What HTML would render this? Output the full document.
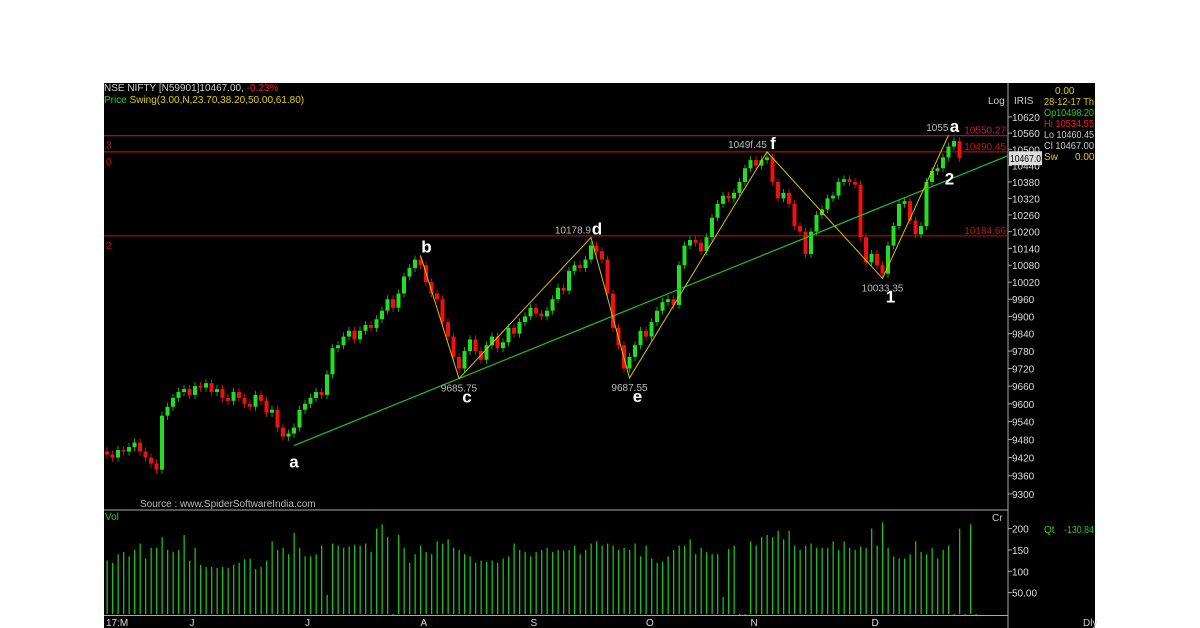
<!DOCTYPE html>
<html><head><meta charset="utf-8"><style>
body{margin:0;background:#fff;width:1200px;height:628px;overflow:hidden;font-family:"Liberation Sans",sans-serif}
#chart{position:absolute;left:0;top:0}
</style></head><body>
<svg id="chart" width="1200" height="628" xmlns="http://www.w3.org/2000/svg" font-family="Liberation Sans, sans-serif">
<rect x="104" y="83" width="991" height="545" fill="#000"/>
<g id="grid"></g>
<g id="vol"></g>
<g id="candles"></g>
<g id="overlay"></g>
<g id="labels"></g>
</svg>
<script>
const closes=[9430,9420,9445,9440,9455,9470,9440,9420,9400,9380,
9560,9590,9620,9640,9650,9630,9660,9655,9670,9640,
9650,9620,9610,9640,9620,9600,9590,9630,9610,9570,
9580,9520,9490,9500,9520,9580,9600,9620,9640,9630,
9700,9790,9800,9830,9850,9820,9850,9870,9860,9890,
9920,9960,9930,9980,10040,10070,10100,10080,10020,9980,
9960,9880,9830,9760,9720,9780,9820,9780,9750,9800,
9830,9790,9810,9860,9840,9880,9900,9930,9910,9900,
9920,9960,10000,9990,10060,10080,10070,10100,10150,10130,
10100,9980,9860,9800,9720,9760,9800,9850,9830,9880,
9920,9950,9960,9940,10080,10150,10170,10160,10130,10180,
10250,10300,10330,10320,10340,10380,10430,10460,10440,10460,
10470,10380,10320,10340,10300,10220,10200,10120,10200,10260,
10280,10320,10330,10380,10390,10380,10370,10180,10090,10120,
10080,10050,10150,10220,10300,10310,10240,10190,10220,10380,
10420,10430,10470,10510,10530,10467];
const volumes=[125,120,140,145,135,150,165,130,155,155,
180,150,145,150,185,125,155,115,110,110,108,110,108,115,120,128,130,105,110,125,
170,150,155,140,190,155,135,135,140,160,45,165,160,155,158,162,160,165,145,
200,210,180,0,185,155,120,140,160,145,140,170,165,175,155,150,140,135,120,125,
122,125,120,130,135,165,150,145,135,145,150,155,145,150,148,150,160,140,150,
165,170,160,165,160,150,155,150,165,135,160,130,120,122,135,150,160,160,175,
140,155,145,140,140,40,152,160,0,0,170,160,180,185,180,195,175,195,160,150,
160,165,155,155,155,170,150,170,155,150,158,155,200,160,215,155,135,130,130,
140,170,145,140,155,130,150,160,0,200,0,210,0,0];
const yTicks=[10620,10560,10500,10440,10380,10320,10260,10200,10140,10080,10020,9960,9900,9840,9780,9720,9660,9600,9540,9480,9420,9360,9300];
const volTicks=[200,150,100,50];
const volTickLabels=["200","150","100","50.00"];
const months=["17:M","J","J","A","S","O","N","D"];
const monthIdx=[0,15,36,57,77,98,117,139];
const swingIdx=[57,64,88,95,120,141,153];
const swingPx=[10115,9685.75,10178.9,9687.55,10490.45,10033.35,10552];
const swingTxt=["","9685.75","10178.9","9687.55","1049f.45","10033.35","1055"];
const waveLetters=["b","c","d","e","f","1","a"];
const hLevels=[10550.27,10490.45,10184.66];
const hLevelTags=["3","0","2"];
const hColors=["#c2185b","#d01010","#c01010"];
const trendIdx=[34,64];const trendPx=[9460,9685.75];

const NS="http://www.w3.org/2000/svg";
function mk(p,t,a,txt){const e=document.createElementNS(NS,t);for(const k in a)e.setAttribute(k,a[k]);if(txt!==undefined)e.textContent=txt;p.appendChild(e);return e;}
const X=i=>107+i*5.5;
const Y=p=>117+2840.4*Math.log(10620/p);
const VY=v=>614-v*0.427;
const grid=document.getElementById('grid'),vol=document.getElementById('vol'),cg=document.getElementById('candles'),ov=document.getElementById('overlay'),lb=document.getElementById('labels');

let e=mk(grid,'line',{x1:104,x2:1008,y1:510,y2:510,stroke:'#aaa','stroke-width':1});

e=mk(grid,'line',{x1:104,x2:1008,y1:615.5,y2:615.5,stroke:'#aaa','stroke-width':1});

e=mk(grid,'line',{x1:1008,x2:1008,y1:83,y2:628,stroke:'#aaa','stroke-width':1});


yTicks.forEach(t=>{const y=Y(t);
 e=mk(lb,'line',{x1:1008,x2:1012,y1:y,y2:y,stroke:'#aaa'});
 
 e=mk(lb,'text',{x:1012,y:y+4,fill:'#ddd','font-size':10},String(t));
 });
volTicks.forEach((t,i)=>{const y=VY(t);
 e=mk(lb,'line',{x1:1008,x2:1012,y1:y,y2:y,stroke:'#aaa'});
 
 e=mk(lb,'text',{x:1012,y:y+4,fill:'#ddd','font-size':10},volTickLabels[i]);
 });
months.forEach((m,i)=>{e=mk(lb,'text',{x:i==0?106:X(monthIdx[i]),y:626,fill:'#ddd','font-size':10},m);
 });

hLevels.forEach((p,i)=>{const y=Y(p);
 e=mk(grid,'line',{x1:104,x2:1008,y1:y,y2:y,stroke:hColors[i],'stroke-width':1});
 
 e=mk(lb,'text',{x:106,y:y+13,fill:hColors[i],'font-size':10},hLevelTags[i]);
 
 e=mk(lb,'text',{x:1006,y:y-2,fill:hColors[i],'font-size':10,'text-anchor':'end'},p.toFixed(2));
 });

volumes.forEach((v,i)=>{if(i>=closes.length+3)return;
 e=mk(vol,'rect',{x:X(i)-0.5,y:VY(v),width:1.3,height:Math.max(1,614-VY(v)),fill:'#18c018'});
 });

closes.forEach((c,i)=>{const o=i?closes[i-1]:c+10;const up=c>=o;
 const hi=Math.max(o,c)+14,lo=Math.min(o,c)-14;const col=up?'#20e020':'#f01010';const x=X(i);
 e=mk(cg,'line',{x1:x,x2:x,y1:Y(hi),y2:Y(lo),stroke:up?'#18a018':'#c01010','stroke-width':1});
 
 const y1=Y(Math.max(o,c)),y2=Y(Math.min(o,c));
 e=mk(cg,'rect',{x:x-2,y:y1,width:4,height:Math.max(1.5,y2-y1),fill:col});
 });

{const x1=X(trendIdx[0]),y1=Y(trendPx[0]),x2=X(trendIdx[1]),y2=Y(trendPx[1]);const s=(y2-y1)/(x2-x1);
 e=mk(ov,'line',{x1:x1,y1:y1,x2:1008,y2:y1+s*(1008-x1),stroke:'#20c020','stroke-width':1.2});
 }
e=mk(ov,'polyline',{points:swingIdx.map((ix,i)=>X(ix)+','+Y(swingPx[i])).join(' '),fill:'none',stroke:'#d8c000','stroke-width':1});

swingIdx.forEach((ix,i)=>{const x=X(ix),y=Y(swingPx[i]);const top=i%2==0;
 if(swingTxt[i]){e=mk(lb,'text',{x:x,y:top?y-4:y+13,fill:'#bbb','font-size':10,'text-anchor':top?'end':'middle'},swingTxt[i]);
  }
 e=mk(lb,'text',{x:top?x+6:x+8,y:top?y-3:y+24,fill:'#fff','font-size':17,'font-weight':'bold','text-anchor':'middle'},waveLetters[i]);
 });
e=mk(lb,'text',{x:X(34),y:Y(9460)+22,fill:'#fff','font-size':17,'font-weight':'bold','text-anchor':'middle'},'a');

e=mk(lb,'text',{x:X(153)+1,y:Y(10400)+8,fill:'#fff','font-size':17,'font-weight':'bold','text-anchor':'middle'},'2');

{const y=Y(closes[closes.length-1]);
 e=mk(lb,'rect',{x:1009,y:y-7,width:33,height:14,fill:'#ddd'});
 
 e=mk(lb,'text',{x:1010,y:y+4,fill:'#000','font-size':10,textLength:31,lengthAdjust:'spacingAndGlyphs'},closes[closes.length-1].toFixed(1));
 }
</script>
<svg style="position:absolute;left:0;top:0" width="1200" height="628" font-family="Liberation Sans, sans-serif" font-size="10">
<text x="104" y="91" fill="#ccc">NSE NIFTY [N59901]10467.00, <tspan fill="#f02020">-0.23%</tspan></text>
<text x="104" y="103" fill="#20d020">Price <tspan fill="#e0d000">Swing(3.00,N,23.70,38.20,50.00,61.80)</tspan></text>
<text x="988" y="104" fill="#ccc">Log</text>
<text x="1014" y="104" fill="#ccc">IRIS</text>
<text x="1055" y="94" fill="#e0d000">0.00</text>
<text x="1044" y="105" fill="#e0d000" textLength="50" lengthAdjust="spacingAndGlyphs">28-12-17 Th</text>
<text x="1044" y="116" fill="#20d020" textLength="50" lengthAdjust="spacingAndGlyphs">Op10498.20</text>
<text x="1044" y="127" fill="#f02020" textLength="50" lengthAdjust="spacingAndGlyphs">Hi 10534.55</text>
<text x="1044" y="138" fill="#ccc" textLength="50" lengthAdjust="spacingAndGlyphs">Lo 10460.45</text>
<text x="1044" y="149" fill="#ccc" textLength="50" lengthAdjust="spacingAndGlyphs">Cl 10467.00</text>
<text x="1044" y="160" fill="#e0d000">Sw<tspan x="1075">0.00</tspan></text>
<text x="140" y="507" fill="#bbb">Source : www.SpiderSoftwareIndia.com</text>
<text x="105" y="520" fill="#20d020">Vol</text>
<text x="992" y="521" fill="#ccc">Cr</text>
<text x="1044" y="533" fill="#20d020">Qt<tspan x="1064" textLength="30" lengthAdjust="spacingAndGlyphs">-130.84</tspan></text>
<text x="1083" y="626" fill="#ccc">Dly</text>
</svg>
</body></html>
